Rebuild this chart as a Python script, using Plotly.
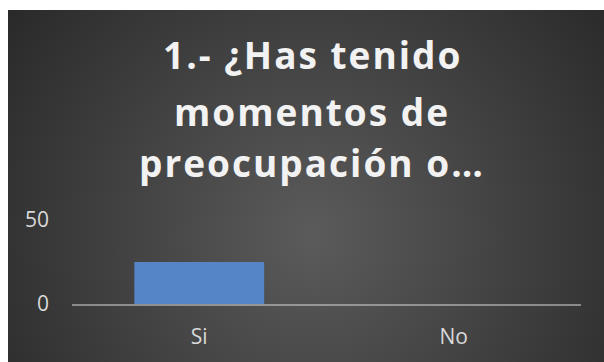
import base64
import plotly.graph_objects as go

# Survey answers
categories = ["Si", "No"]
counts = [25, 0]
y_ticks = [0, 50]
title_lines = ["1.- ¿Has tenido", "momentos de", "preocupación o…"]

W, H = 604, 362
M_L, M_R, M_T, M_B = 72, 23, 220, 58
plot_w = W - M_L - M_R
plot_h = H - M_T - M_B

# Radial dark backdrop, drawn as an inline SVG image behind the chart
bg_svg = (
    '<svg xmlns="http://www.w3.org/2000/svg" width="596" height="352">'
    '<defs><radialGradient id="g" gradientUnits="userSpaceOnUse" cx="305" cy="225" r="420">'
    '<stop offset="0" stop-color="#5b5b5b"/><stop offset="1" stop-color="#242424"/>'
    '</radialGradient></defs><rect width="596" height="352" fill="url(#g)"/></svg>'
)
bg_uri = "data:image/svg+xml;base64," + base64.b64encode(bg_svg.encode()).decode()


def px_x(px):
    return (px - M_L) / plot_w


def px_y(py):
    return (H - M_B - py) / plot_h


fig = go.Figure(
    go.Bar(
        x=categories,
        y=counts,
        marker=dict(color="#5585c6", line=dict(width=0)),
        hoverinfo="skip",
    )
)

title_font = dict(family="Open Sans", size=37, color="#f2f2f2", weight="bold")
baselines = [72, 129, 180]
for text, base in zip(title_lines, baselines):
    fig.add_annotation(
        text='<span style="letter-spacing:2px">' + text + "</span>",
        xref="paper", yref="paper",
        x=px_x(312), y=px_y(base + 10),
        xanchor="center", yanchor="bottom",
        showarrow=False, font=title_font,
    )

tick_font = dict(family="Open Sans", size=21, color="#d9d9d9")

fig.update_layout(
    width=W, height=H,
    margin=dict(l=M_L, r=M_R, t=M_T, b=M_B),
    paper_bgcolor="#ffffff",
    plot_bgcolor="rgba(0,0,0,0)",
    bargap=0.49,
    showlegend=False,
    images=[dict(
        source=bg_uri, xref="paper", yref="paper",
        x=px_x(8), y=px_y(10), sizex=596 / plot_w, sizey=352 / plot_h,
        xanchor="left", yanchor="top", sizing="stretch", layer="below",
    )],
    xaxis=dict(
        showline=True, linecolor="rgba(220,220,220,0.5)", linewidth=2,
        showgrid=False, zeroline=False, ticks="",
        tickfont=tick_font,
        ticklabelstandoff=13,
    ),
    yaxis=dict(
        range=[0, 50], tickvals=y_ticks, showline=False, zeroline=False,
        showgrid=True, gridcolor="rgba(220,220,220,0.15)", gridwidth=1,
        tickfont=tick_font,
        ticklabelstandoff=22,
    ),
)

fig.write_html("out.html")
